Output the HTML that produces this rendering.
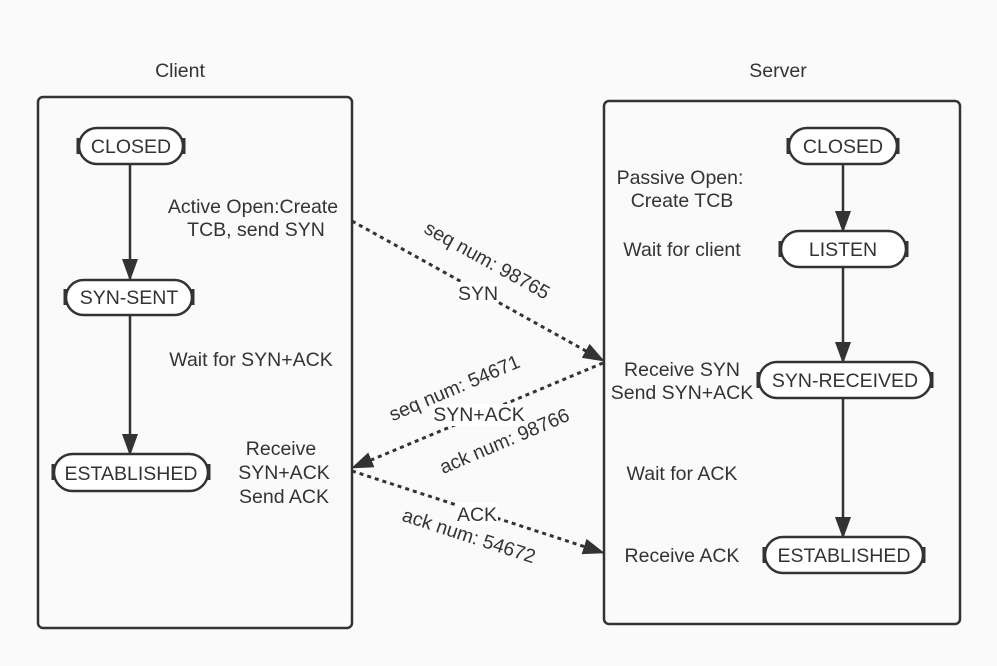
<!DOCTYPE html>
<html><head><meta charset="utf-8"><style>
html,body{margin:0;padding:0;background:#fafafa;}
svg{display:block;}
text{font-family:"Liberation Sans",sans-serif;font-size:19.5px;fill:#333;}
</style></head><body>
<svg width="997" height="666" viewBox="0 0 997 666" xmlns="http://www.w3.org/2000/svg">
<defs>
<marker id="ah" markerWidth="22" markerHeight="16" refX="21" refY="8" orient="auto" markerUnits="userSpaceOnUse">
<path d="M0,0 L22,8 L0,16 Z" fill="#333"/>
</marker>
</defs>
<rect width="997" height="666" fill="#fafafa"/>
<text x="180" y="77" text-anchor="middle">Client</text>
<text x="778" y="77" text-anchor="middle">Server</text>
<rect x="38" y="97" width="314" height="531" rx="5" fill="none" stroke="#333" stroke-width="2.5"/>
<rect x="604" y="101" width="356" height="523" rx="5" fill="none" stroke="#333" stroke-width="2.5"/>

<g stroke="#333" stroke-width="2.5" fill="none">
<line x1="130" y1="164" x2="130" y2="280" marker-end="url(#ah)"/>
<line x1="130" y1="315" x2="130" y2="455" marker-end="url(#ah)"/>
<line x1="843" y1="164" x2="843" y2="232" marker-end="url(#ah)"/>
<line x1="843" y1="267" x2="843" y2="363" marker-end="url(#ah)"/>
<line x1="843" y1="398" x2="843" y2="538" marker-end="url(#ah)"/>
</g>

<g stroke="#333" stroke-width="2.5" fill="#fff">
<rect x="79" y="128" width="104" height="36" rx="18"/>
<rect x="66" y="280" width="126" height="35" rx="17.5"/>
<rect x="54" y="454" width="154" height="37" rx="18.5"/>
<rect x="789" y="128" width="108" height="36" rx="18"/>
<rect x="781" y="231" width="125" height="36" rx="18"/>
<rect x="759" y="362" width="172" height="36" rx="18"/>
<rect x="765" y="537" width="158" height="36" rx="18"/>
</g>
<g stroke="#333" stroke-width="3">
<line x1="78" y1="138" x2="78" y2="154"/><line x1="184" y1="138" x2="184" y2="154"/>
<line x1="65" y1="289" x2="65" y2="305"/><line x1="193" y1="289" x2="193" y2="305"/>
<line x1="53" y1="464" x2="53" y2="480"/><line x1="209" y1="464" x2="209" y2="480"/>
<line x1="788" y1="138" x2="788" y2="154"/><line x1="898" y1="138" x2="898" y2="154"/>
<line x1="780" y1="241" x2="780" y2="257"/><line x1="907" y1="241" x2="907" y2="257"/>
<line x1="758" y1="372" x2="758" y2="388"/><line x1="932" y1="372" x2="932" y2="388"/>
<line x1="764" y1="547" x2="764" y2="563"/><line x1="924" y1="547" x2="924" y2="563"/>
</g>
<g text-anchor="middle">
<text x="131" y="153">CLOSED</text>
<text x="129" y="304">SYN-SENT</text>
<text x="131" y="480">ESTABLISHED</text>
<text x="843" y="153">CLOSED</text>
<text x="843" y="256">LISTEN</text>
<text x="845" y="387">SYN-RECEIVED</text>
<text x="844" y="562">ESTABLISHED</text>

<text x="253" y="213">Active Open:Create</text>
<text x="256" y="236">TCB, send SYN</text>
<text x="251" y="366">Wait for SYN+ACK</text>
<text x="281" y="455">Receive</text>
<text x="284" y="479">SYN+ACK</text>
<text x="284" y="503">Send ACK</text>

<text x="680" y="184">Passive Open:</text>
<text x="682" y="207">Create TCB</text>
<text x="682" y="256">Wait for client</text>
<text x="682" y="376">Receive SYN</text>
<text x="682" y="399">Send SYN+ACK</text>
<text x="682" y="480">Wait for ACK</text>
<text x="682" y="562">Receive ACK</text>
</g>

<g stroke="#333" stroke-width="3" stroke-dasharray="4,4" fill="none">
<line x1="352" y1="221" x2="604" y2="361" marker-end="url(#ah)"/>
<line x1="603" y1="363" x2="352" y2="468" marker-end="url(#ah)"/>
<line x1="352" y1="471" x2="604" y2="553" marker-end="url(#ah)"/>
</g>
<rect x="458" y="282" width="40" height="22" fill="#fff"/>
<rect x="432" y="404" width="94" height="22" fill="#fff"/>
<rect x="456" y="503" width="42" height="22" fill="#fff"/>
<g text-anchor="middle">
<text x="478" y="300">SYN</text>
<text x="479" y="421">SYN+ACK</text>
<text x="477" y="521">ACK</text>
<text transform="translate(484,266) rotate(29)">seq num: 98765</text>
<text transform="translate(457,394) rotate(-23)">seq num: 54671</text>
<text transform="translate(507,447) rotate(-23)">ack num: 98766</text>
<text transform="translate(467,542) rotate(18)">ack num: 54672</text>
</g>
</svg>
</body></html>
